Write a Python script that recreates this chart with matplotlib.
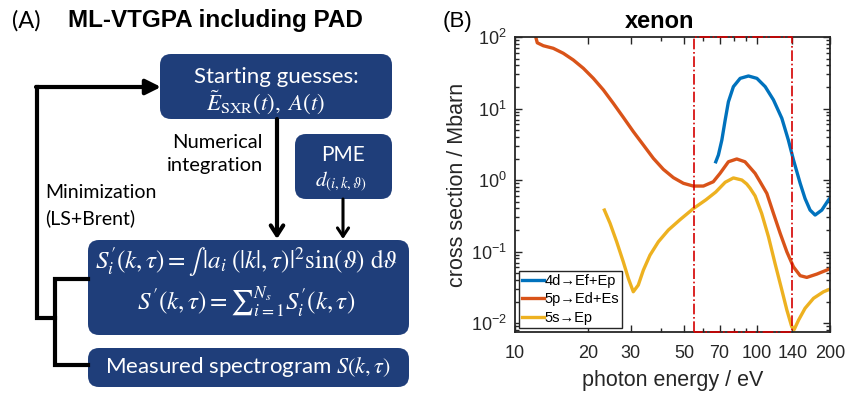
import numpy as np
import matplotlib.pyplot as plt
from matplotlib.patches import FancyBboxPatch
from matplotlib.ticker import FixedLocator, NullFormatter, LogLocator

plt.rcParams['mathtext.fontset'] = 'stix'

# photoionisation cross sections of xenon (Mbarn)
e_4d = [67.5, 69.2, 71.5, 73.8, 76.1, 79.8, 85.1, 92.1, 99.8, 108, 116.8, 126.5,
        134.6, 141.3, 150.6, 157.8, 165.5, 173.6, 185, 197, 200]
s_4d = [1.80, 2.24, 3.62, 6.9, 12.4, 20.2, 26.4, 28.5, 26.4, 20.2, 13.2, 7.3,
        3.62, 1.91, 0.90, 0.55, 0.38, 0.324, 0.38, 0.525, 0.56]

e_5p = [12.18, 12.36, 13.09, 14.39, 15.83, 17.41, 19.16, 21.07, 23.17, 25.48, 28.03,
        30.83, 33.9, 37.28, 41.0, 45.1, 49.6, 54.5, 60.0, 65.9, 70.3, 76.1, 82.4,
        89.1, 98.1, 102.8, 109.7, 116.8, 124.5, 132.7, 141.3, 150.6, 160.4, 176.5, 200]
s_5p = [100, 83, 75.5, 69.5, 59.2, 47.7, 36.5, 26.4, 18.2, 11.8, 7.5,
        4.74, 3.09, 2.01, 1.41, 1.08, 0.90, 0.824, 0.824, 0.946, 1.24, 1.80, 1.97,
        1.80, 1.24, 0.95, 0.65, 0.342, 0.18, 0.099, 0.061, 0.046, 0.0435, 0.0484, 0.0575]

e_5s = [23.4, 24.7, 26.3, 28.0, 29.4, 30.8, 32.3, 33.9, 36.1, 39.1, 43.0, 48.1,
        54.6, 61.5, 67.5, 73.8, 79.8, 86.5, 90.6, 93.5, 98.1, 104.4, 111.4, 118.6,
        126.5, 132.7, 139, 142.2, 148.3, 157.8, 171, 188, 200]
s_5s = [0.38, 0.248, 0.137, 0.072, 0.042, 0.0274, 0.034, 0.055, 0.089, 0.137, 0.2, 0.28,
        0.40, 0.53, 0.68, 0.93, 1.07, 1.0, 0.88, 0.77, 0.6, 0.342, 0.161, 0.068,
        0.029, 0.0152, 0.0089, 0.0081, 0.011, 0.0161, 0.0222, 0.0274, 0.0298]

labels = ['4d\u2192Ef+Ep', '5p\u2192Ed+Es', '5s\u2192Ep']
colors = ['#0072BD', '#D95319', '#EDB120']
window = [55, 140]           # eV, marked energy window
xticks = [10, 20, 30, 50, 70, 100, 140, 200]

box_c = '#1F3E7A'
sans = ['Lato', 'DejaVu Sans']

fig = plt.figure(figsize=(8.49, 3.95), dpi=100)

# ---------- panel A: flow chart drawn in pixel coordinates ----------
ax0 = fig.add_axes([0, 0, 1, 1])
ax0.set_xlim(0, 849)
ax0.set_ylim(395, 0)
ax0.axis('off')


def box(x0, y0, x1, y1):
    ax0.add_patch(FancyBboxPatch((x0, y0), x1 - x0, y1 - y0,
                                 boxstyle='round,pad=0,rounding_size=11',
                                 fc=box_c, ec='none'))


box(160, 54, 392, 119)
box(295, 134, 392, 199)
box(88, 240, 409, 335)
box(88, 348, 409, 387)

ax0.text(12, 21, '(A)', fontsize=17, family=sans, ha='left', va='center')
ax0.text(68, 21, 'ML-VTGPA including PAD', fontsize=17.5, weight='bold',
         family='Liberation Sans', ha='left', va='center')

ax0.text(276, 77, 'Starting guesses:', color='w', fontsize=16, family=sans,
         ha='center', va='center')
ax0.text(266, 102, r'$\tilde{E}_{\mathrm{SXR}}(t),\ A(t)$', color='w', fontsize=16.5,
         ha='center', va='center')
ax0.text(343, 155, 'PME', color='w', fontsize=15, family=sans, ha='center', va='center')
ax0.text(341, 182, r'$d_{(i,k,\vartheta)}$', color='w', fontsize=15, ha='center', va='center')
ax0.text(246, 262,
         r"$S_i^{\prime}(k,\tau) = \int\,|a_i\;(|k|,\tau)|^2\sin(\vartheta)\ \mathrm{d}\vartheta$",
         color='w', fontsize=18, ha='center', va='center')
ax0.text(246, 302, r"$S^{\prime}(k,\tau) = {\sum}_{i=1}^{N_s} S_i^{\prime}(k,\tau)$",
         color='w', fontsize=18, ha='center', va='center')
ax0.text(248, 367, r'Measured spectrogram $S(k,\tau)$', color='w', fontsize=16,
         family=sans, ha='center', va='center')

ax0.text(263, 142, 'Numerical', fontsize=14.5, family=sans, ha='right', va='center')
ax0.text(263, 165, 'integration', fontsize=14.5, family=sans, ha='right', va='center')
ax0.text(45, 192, 'Minimization', fontsize=14, family=sans, ha='left', va='center')
ax0.text(45, 218, '(LS+Brent)', fontsize=14, family=sans, ha='left', va='center')

lw = 3
ax0.plot([37, 37, 55], [87, 318, 318], color='k', lw=lw, solid_joinstyle='miter')
ax0.plot([88, 55, 55, 88], [279, 279, 365, 365], color='k', lw=lw, solid_joinstyle='miter')
ax0.annotate('', xy=(161, 87), xytext=(36, 87),
             arrowprops=dict(arrowstyle='-|>,head_length=0.9,head_width=0.45', lw=lw,
                             color='k', shrinkA=0, shrinkB=0))
ax0.annotate('', xy=(277, 239), xytext=(277, 119),
             arrowprops=dict(arrowstyle='->,head_length=0.7,head_width=0.45', lw=lw,
                             color='k', shrinkA=0, shrinkB=0))
ax0.annotate('', xy=(343, 239), xytext=(343, 199),
             arrowprops=dict(arrowstyle='->,head_length=0.6,head_width=0.4', lw=2.2,
                             color='k', shrinkA=0, shrinkB=0))

# ---------- panel B: cross sections ----------
ax = fig.add_axes([515 / 849, (395 - 332) / 395, 315 / 849, (332 - 37) / 395])
for e, s, lab, c in zip([e_4d, e_5p, e_5s], [s_4d, s_5p, s_5s], labels, colors):
    ax.plot(e, s, color=c, lw=2.4, label=lab, solid_joinstyle='round')

ylo, yhi = 0.0075, 100
ax.plot([window[0], window[0], window[1], window[1], window[0]],
        [ylo, yhi, yhi, ylo, ylo], color='#D40000', ls='-.', lw=1.2,
        clip_on=False, zorder=4)

ax.set_xscale('log')
ax.set_yscale('log')
ax.set_xlim(10, 200)
ax.set_ylim(ylo, yhi)
ax.xaxis.set_major_locator(FixedLocator(xticks))
ax.set_xticklabels([str(t) for t in xticks])
ax.xaxis.set_minor_locator(FixedLocator([40, 60, 80, 90]))
ax.xaxis.set_minor_formatter(NullFormatter())
ax.yaxis.set_major_locator(LogLocator(base=10, numticks=10))
ax.yaxis.set_minor_locator(LogLocator(base=10, subs=np.arange(2, 10), numticks=20))
ax.yaxis.set_minor_formatter(NullFormatter())

gray = '#262626'
for sp in ax.spines.values():
    sp.set_linewidth(1.3)
    sp.set_color(gray)
ax.tick_params(which='both', direction='in', top=True, right=True, colors=gray,
               labelsize=13, width=1.0)
ax.tick_params(which='major', length=5)
ax.tick_params(axis='x', which='major', pad=9)
ax.tick_params(axis='y', which='major', pad=6)
ax.tick_params(which='minor', length=3)
for t in ax.get_xticklabels() + ax.get_yticklabels():
    t.set_family('Liberation Sans')

ax.set_xlabel('photon energy / eV', fontsize=15.5, family='Liberation Sans', color=gray,
              labelpad=6)
ax.set_ylabel('cross section / Mbarn', fontsize=15.5, family='Liberation Sans', color=gray,
              labelpad=2)
leg = ax.legend(loc='lower left', handlelength=1.5, handletextpad=0.05,
                borderpad=0.2, labelspacing=0.3, borderaxespad=0.3, fancybox=False,
                framealpha=1, prop={'family': 'Liberation Sans', 'size': 10.5})
leg.get_frame().set_edgecolor(gray)
leg.get_frame().set_linewidth(1.0)

ax0.text(443, 21, '(B)', fontsize=16, family='Liberation Sans', ha='left', va='center')
ax0.text(660, 21, 'xenon', fontsize=17, weight='bold', family='Liberation Sans',
         ha='center', va='center')

fig.savefig('out.png', dpi=100)
